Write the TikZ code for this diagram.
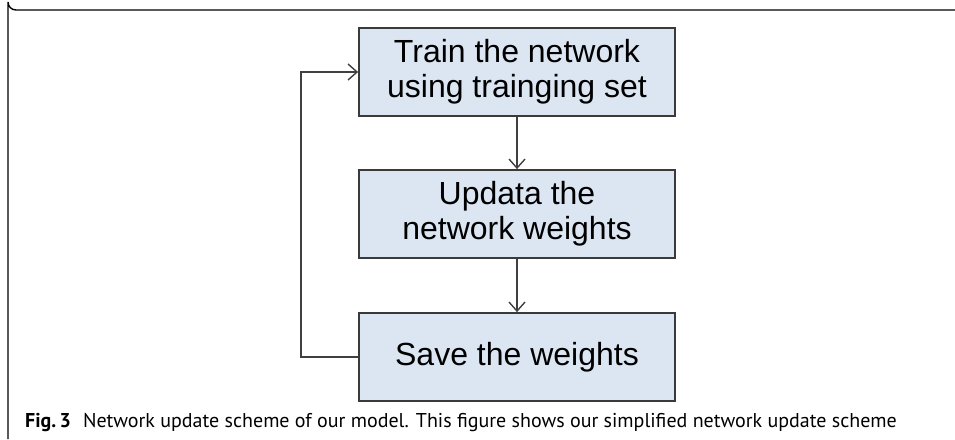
\documentclass[tikz,border=0pt]{standalone}
\usepackage{fontspec}
\setmainfont{Liberation Sans}
\newfontfamily\capfont{PT Sans}
\usetikzlibrary{arrows.meta}
\definecolor{boxfill}{HTML}{DCE6F2}
\definecolor{boxline}{HTML}{3A3A3A}
\definecolor{linkcol}{HTML}{404040}
\begin{document}
\begin{tikzpicture}[x=1pt,y=-1pt,
  stepbox/.style={draw=boxline, line width=1.8pt, fill=boxfill,
    minimum width=316pt, minimum height=88pt, inner sep=0pt,
    align=center, font=\fontsize{32}{35}\selectfont},
  link/.style={draw=linkcol, line width=1.4pt,
    -{Straight Barb[length=9pt,width=16pt,line width=1.4pt]}}]
\useasboundingbox (0,0) rectangle (955,439);
% panel frame: top edge and left edge with a rounded corner
\draw[line width=1.4pt] (955,10) -- (16,10) arc[start angle=90, end angle=180, radius=8] -- (8,439);
% process steps
\node[stepbox] (train) at (517,72) {Train the network\\using trainging set};
\node[stepbox] (update) at (517,214) {Updata the\\network weights};
\node[stepbox] (save) at (517,357) {Save the weights};
% connectors
\draw[link] (train) -- (update);
\draw[link] (update) -- (save);
\draw[link] (save.west) -- ++(-57,0) |- (train.west);
% caption
\node[anchor=base west, inner sep=0pt, font=\capfont\fontsize{20}{24}\selectfont] (cap) at (25,427)
  {\textbf{Fig.\,3}\hspace{0.6em}Network update scheme of our model. This figure shows our simplified network update scheme};
\end{tikzpicture}
\end{document}
